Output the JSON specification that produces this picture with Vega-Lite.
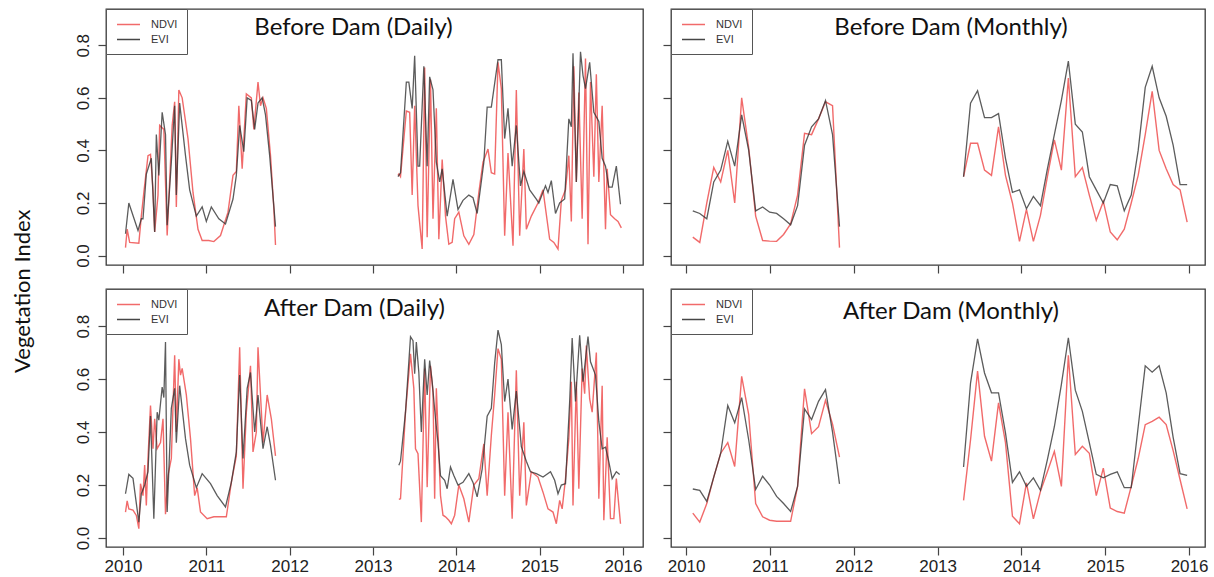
{
"$schema": "https://vega.github.io/schema/vega-lite/v6.json",
"padding": {"left": 12, "top": 7, "right": 5, "bottom": 0},
"background": "white",
"title": {"text": "Vegetation Index", "orient": "left", "anchor": "middle", "fontSize": 22, "font": "Lato", "fontWeight": "normal", "color": "#111", "offset": 38},
"datasets": {
"BD_N1": [{"x":2010.03,"v":0.03},{"x":2010.05,"v":0.10},{"x":2010.08,"v":0.05},{"x":2010.19,"v":0.047},{"x":2010.22,"v":0.15},{"x":2010.25,"v":0.24},{"x":2010.30,"v":0.38},{"x":2010.33,"v":0.385},{"x":2010.36,"v":0.25},{"x":2010.38,"v":0.09},{"x":2010.42,"v":0.23},{"x":2010.44,"v":0.495},{"x":2010.49,"v":0.48},{"x":2010.53,"v":0.076},{"x":2010.59,"v":0.495},{"x":2010.62,"v":0.585},{"x":2010.64,"v":0.185},{"x":2010.67,"v":0.63},{"x":2010.71,"v":0.60},{"x":2010.78,"v":0.445},{"x":2010.84,"v":0.24},{"x":2010.90,"v":0.10},{"x":2010.95,"v":0.057},{"x":2011.03,"v":0.057},{"x":2011.09,"v":0.053},{"x":2011.17,"v":0.076},{"x":2011.26,"v":0.165},{"x":2011.32,"v":0.305},{"x":2011.36,"v":0.32},{"x":2011.39,"v":0.57},{"x":2011.43,"v":0.33},{"x":2011.48,"v":0.615},{"x":2011.54,"v":0.60},{"x":2011.57,"v":0.48},{"x":2011.62,"v":0.66},{"x":2011.65,"v":0.57},{"x":2011.68,"v":0.60},{"x":2011.72,"v":0.56},{"x":2011.77,"v":0.38},{"x":2011.81,"v":0.18},{"x":2011.83,"v":0.04}],
"BD_E1": [{"x":2010.03,"v":0.083},{"x":2010.07,"v":0.20},{"x":2010.18,"v":0.095},{"x":2010.22,"v":0.14},{"x":2010.24,"v":0.14},{"x":2010.28,"v":0.31},{"x":2010.34,"v":0.37},{"x":2010.38,"v":0.09},{"x":2010.40,"v":0.46},{"x":2010.43,"v":0.305},{"x":2010.47,"v":0.545},{"x":2010.51,"v":0.46},{"x":2010.53,"v":0.115},{"x":2010.58,"v":0.355},{"x":2010.62,"v":0.57},{"x":2010.64,"v":0.23},{"x":2010.68,"v":0.58},{"x":2010.75,"v":0.38},{"x":2010.80,"v":0.25},{"x":2010.88,"v":0.15},{"x":2010.95,"v":0.185},{"x":2011.00,"v":0.13},{"x":2011.06,"v":0.185},{"x":2011.15,"v":0.14},{"x":2011.23,"v":0.12},{"x":2011.32,"v":0.215},{"x":2011.36,"v":0.305},{"x":2011.40,"v":0.495},{"x":2011.45,"v":0.395},{"x":2011.49,"v":0.60},{"x":2011.54,"v":0.59},{"x":2011.58,"v":0.48},{"x":2011.62,"v":0.58},{"x":2011.67,"v":0.60},{"x":2011.71,"v":0.535},{"x":2011.76,"v":0.38},{"x":2011.83,"v":0.11}],
"BD_N2": [{"x":2013.30,"v":0.305},{"x":2013.31,"v":0.31},{"x":2013.33,"v":0.30},{"x":2013.40,"v":0.55},{"x":2013.44,"v":0.545},{"x":2013.47,"v":0.23},{"x":2013.50,"v":0.57},{"x":2013.54,"v":0.19},{"x":2013.59,"v":0.025},{"x":2013.62,"v":0.715},{"x":2013.65,"v":0.07},{"x":2013.69,"v":0.67},{"x":2013.72,"v":0.14},{"x":2013.76,"v":0.56},{"x":2013.79,"v":0.062},{"x":2013.83,"v":0.365},{"x":2013.87,"v":0.15},{"x":2013.91,"v":0.043},{"x":2013.95,"v":0.05},{"x":2013.98,"v":0.14},{"x":2014.03,"v":0.165},{"x":2014.09,"v":0.075},{"x":2014.15,"v":0.043},{"x":2014.21,"v":0.08},{"x":2014.27,"v":0.24},{"x":2014.32,"v":0.355},{"x":2014.38,"v":0.405},{"x":2014.42,"v":0.315},{"x":2014.46,"v":0.31},{"x":2014.50,"v":0.735},{"x":2014.54,"v":0.635},{"x":2014.58,"v":0.075},{"x":2014.62,"v":0.39},{"x":2014.68,"v":0.037},{"x":2014.72,"v":0.63},{"x":2014.76,"v":0.075},{"x":2014.81,"v":0.405},{"x":2014.84,"v":0.10},{"x":2014.90,"v":0.15},{"x":2014.98,"v":0.20},{"x":2015.04,"v":0.25},{"x":2015.12,"v":0.062},{"x":2015.17,"v":0.05},{"x":2015.22,"v":0.025},{"x":2015.26,"v":0.21},{"x":2015.31,"v":0.25},{"x":2015.35,"v":0.38},{"x":2015.38,"v":0.13},{"x":2015.41,"v":0.72},{"x":2015.44,"v":0.28},{"x":2015.47,"v":0.62},{"x":2015.51,"v":0.14},{"x":2015.55,"v":0.75},{"x":2015.58,"v":0.043},{"x":2015.61,"v":0.66},{"x":2015.65,"v":0.30},{"x":2015.68,"v":0.69},{"x":2015.71,"v":0.28},{"x":2015.75,"v":0.57},{"x":2015.79,"v":0.10},{"x":2015.81,"v":0.33},{"x":2015.85,"v":0.155},{"x":2015.90,"v":0.14},{"x":2015.94,"v":0.13},{"x":2015.98,"v":0.105}],
"BD_E2": [{"x":2013.30,"v":0.30},{"x":2013.33,"v":0.315},{"x":2013.40,"v":0.66},{"x":2013.43,"v":0.66},{"x":2013.47,"v":0.56},{"x":2013.50,"v":0.76},{"x":2013.54,"v":0.34},{"x":2013.56,"v":0.34},{"x":2013.61,"v":0.72},{"x":2013.65,"v":0.34},{"x":2013.68,"v":0.68},{"x":2013.72,"v":0.63},{"x":2013.76,"v":0.355},{"x":2013.80,"v":0.28},{"x":2013.83,"v":0.33},{"x":2013.89,"v":0.15},{"x":2013.96,"v":0.29},{"x":2014.02,"v":0.175},{"x":2014.08,"v":0.21},{"x":2014.15,"v":0.23},{"x":2014.20,"v":0.22},{"x":2014.25,"v":0.16},{"x":2014.33,"v":0.355},{"x":2014.37,"v":0.565},{"x":2014.42,"v":0.565},{"x":2014.50,"v":0.745},{"x":2014.54,"v":0.745},{"x":2014.58,"v":0.445},{"x":2014.62,"v":0.56},{"x":2014.67,"v":0.34},{"x":2014.72,"v":0.495},{"x":2014.77,"v":0.265},{"x":2014.81,"v":0.32},{"x":2014.88,"v":0.25},{"x":2014.96,"v":0.215},{"x":2014.99,"v":0.20},{"x":2015.07,"v":0.265},{"x":2015.10,"v":0.24},{"x":2015.14,"v":0.285},{"x":2015.19,"v":0.16},{"x":2015.24,"v":0.20},{"x":2015.30,"v":0.215},{"x":2015.35,"v":0.52},{"x":2015.38,"v":0.49},{"x":2015.40,"v":0.77},{"x":2015.44,"v":0.28},{"x":2015.49,"v":0.775},{"x":2015.52,"v":0.685},{"x":2015.55,"v":0.635},{"x":2015.60,"v":0.735},{"x":2015.65,"v":0.545},{"x":2015.71,"v":0.51},{"x":2015.75,"v":0.37},{"x":2015.79,"v":0.34},{"x":2015.83,"v":0.26},{"x":2015.87,"v":0.26},{"x":2015.92,"v":0.34},{"x":2015.97,"v":0.195}],
"AD_N1": [{"x":2010.03,"v":0.098},{"x":2010.05,"v":0.14},{"x":2010.07,"v":0.11},{"x":2010.12,"v":0.105},{"x":2010.16,"v":0.085},{"x":2010.19,"v":0.035},{"x":2010.21,"v":0.205},{"x":2010.24,"v":0.16},{"x":2010.26,"v":0.275},{"x":2010.28,"v":0.123},{"x":2010.30,"v":0.30},{"x":2010.33,"v":0.50},{"x":2010.36,"v":0.337},{"x":2010.38,"v":0.45},{"x":2010.41,"v":0.337},{"x":2010.45,"v":0.36},{"x":2010.48,"v":0.45},{"x":2010.51,"v":0.09},{"x":2010.54,"v":0.236},{"x":2010.58,"v":0.30},{"x":2010.62,"v":0.69},{"x":2010.64,"v":0.40},{"x":2010.67,"v":0.675},{"x":2010.69,"v":0.615},{"x":2010.71,"v":0.64},{"x":2010.76,"v":0.54},{"x":2010.81,"v":0.375},{"x":2010.86,"v":0.16},{"x":2010.89,"v":0.19},{"x":2010.93,"v":0.098},{"x":2011.01,"v":0.073},{"x":2011.09,"v":0.08},{"x":2011.17,"v":0.08},{"x":2011.24,"v":0.08},{"x":2011.30,"v":0.21},{"x":2011.36,"v":0.31},{"x":2011.40,"v":0.72},{"x":2011.44,"v":0.186},{"x":2011.48,"v":0.475},{"x":2011.53,"v":0.65},{"x":2011.56,"v":0.325},{"x":2011.60,"v":0.40},{"x":2011.62,"v":0.72},{"x":2011.68,"v":0.36},{"x":2011.73,"v":0.54},{"x":2011.78,"v":0.45},{"x":2011.83,"v":0.31}],
"AD_E1": [{"x":2010.03,"v":0.167},{"x":2010.07,"v":0.24},{"x":2010.12,"v":0.225},{"x":2010.19,"v":0.06},{"x":2010.22,"v":0.167},{"x":2010.26,"v":0.20},{"x":2010.30,"v":0.25},{"x":2010.33,"v":0.46},{"x":2010.37,"v":0.073},{"x":2010.41,"v":0.475},{"x":2010.43,"v":0.445},{"x":2010.47,"v":0.57},{"x":2010.49,"v":0.53},{"x":2010.51,"v":0.74},{"x":2010.53,"v":0.098},{"x":2010.58,"v":0.49},{"x":2010.62,"v":0.565},{"x":2010.64,"v":0.36},{"x":2010.68,"v":0.575},{"x":2010.75,"v":0.375},{"x":2010.80,"v":0.275},{"x":2010.88,"v":0.19},{"x":2010.95,"v":0.243},{"x":2011.05,"v":0.205},{"x":2011.13,"v":0.16},{"x":2011.23,"v":0.117},{"x":2011.30,"v":0.21},{"x":2011.36,"v":0.325},{"x":2011.40,"v":0.615},{"x":2011.44,"v":0.30},{"x":2011.49,"v":0.565},{"x":2011.53,"v":0.625},{"x":2011.58,"v":0.40},{"x":2011.62,"v":0.54},{"x":2011.68,"v":0.337},{"x":2011.73,"v":0.42},{"x":2011.77,"v":0.35},{"x":2011.83,"v":0.218}],
"AD_N2": [{"x":2013.31,"v":0.146},{"x":2013.33,"v":0.148},{"x":2013.39,"v":0.475},{"x":2013.45,"v":0.695},{"x":2013.49,"v":0.565},{"x":2013.51,"v":0.337},{"x":2013.54,"v":0.318},{"x":2013.58,"v":0.06},{"x":2013.62,"v":0.64},{"x":2013.65,"v":0.192},{"x":2013.69,"v":0.65},{"x":2013.72,"v":0.55},{"x":2013.74,"v":0.148},{"x":2013.76,"v":0.565},{"x":2013.81,"v":0.16},{"x":2013.84,"v":0.086},{"x":2013.87,"v":0.08},{"x":2013.91,"v":0.067},{"x":2013.94,"v":0.054},{"x":2013.98,"v":0.086},{"x":2014.03,"v":0.20},{"x":2014.09,"v":0.148},{"x":2014.15,"v":0.06},{"x":2014.21,"v":0.20},{"x":2014.27,"v":0.224},{"x":2014.33,"v":0.355},{"x":2014.37,"v":0.16},{"x":2014.42,"v":0.387},{"x":2014.46,"v":0.54},{"x":2014.50,"v":0.715},{"x":2014.54,"v":0.675},{"x":2014.58,"v":0.16},{"x":2014.62,"v":0.475},{"x":2014.67,"v":0.073},{"x":2014.72,"v":0.633},{"x":2014.76,"v":0.16},{"x":2014.81,"v":0.437},{"x":2014.84,"v":0.123},{"x":2014.90,"v":0.25},{"x":2014.98,"v":0.23},{"x":2015.04,"v":0.173},{"x":2015.10,"v":0.11},{"x":2015.16,"v":0.098},{"x":2015.20,"v":0.054},{"x":2015.24,"v":0.142},{"x":2015.27,"v":0.11},{"x":2015.31,"v":0.224},{"x":2015.35,"v":0.375},{"x":2015.38,"v":0.59},{"x":2015.40,"v":0.123},{"x":2015.44,"v":0.59},{"x":2015.47,"v":0.186},{"x":2015.51,"v":0.64},{"x":2015.54,"v":0.545},{"x":2015.56,"v":0.727},{"x":2015.60,"v":0.525},{"x":2015.63,"v":0.475},{"x":2015.68,"v":0.70},{"x":2015.71,"v":0.148},{"x":2015.75,"v":0.575},{"x":2015.77,"v":0.067},{"x":2015.81,"v":0.38},{"x":2015.85,"v":0.073},{"x":2015.89,"v":0.073},{"x":2015.92,"v":0.224},{"x":2015.97,"v":0.054}],
"AD_E2": [{"x":2013.31,"v":0.275},{"x":2013.33,"v":0.29},{"x":2013.39,"v":0.475},{"x":2013.45,"v":0.76},{"x":2013.48,"v":0.745},{"x":2013.50,"v":0.62},{"x":2013.52,"v":0.74},{"x":2013.55,"v":0.625},{"x":2013.58,"v":0.40},{"x":2013.62,"v":0.675},{"x":2013.65,"v":0.54},{"x":2013.68,"v":0.67},{"x":2013.71,"v":0.59},{"x":2013.75,"v":0.45},{"x":2013.78,"v":0.36},{"x":2013.81,"v":0.235},{"x":2013.86,"v":0.218},{"x":2013.89,"v":0.186},{"x":2013.93,"v":0.268},{"x":2013.97,"v":0.236},{"x":2014.02,"v":0.20},{"x":2014.08,"v":0.21},{"x":2014.15,"v":0.243},{"x":2014.20,"v":0.21},{"x":2014.25,"v":0.155},{"x":2014.31,"v":0.26},{"x":2014.37,"v":0.46},{"x":2014.42,"v":0.49},{"x":2014.46,"v":0.66},{"x":2014.50,"v":0.785},{"x":2014.54,"v":0.73},{"x":2014.58,"v":0.515},{"x":2014.62,"v":0.60},{"x":2014.67,"v":0.41},{"x":2014.72,"v":0.555},{"x":2014.78,"v":0.345},{"x":2014.84,"v":0.29},{"x":2014.89,"v":0.25},{"x":2014.96,"v":0.243},{"x":2015.04,"v":0.23},{"x":2015.13,"v":0.25},{"x":2015.18,"v":0.218},{"x":2015.22,"v":0.167},{"x":2015.26,"v":0.20},{"x":2015.31,"v":0.205},{"x":2015.36,"v":0.515},{"x":2015.39,"v":0.755},{"x":2015.43,"v":0.515},{"x":2015.48,"v":0.765},{"x":2015.52,"v":0.59},{"x":2015.58,"v":0.76},{"x":2015.61,"v":0.665},{"x":2015.67,"v":0.615},{"x":2015.71,"v":0.44},{"x":2015.75,"v":0.337},{"x":2015.79,"v":0.343},{"x":2015.83,"v":0.287},{"x":2015.87,"v":0.224},{"x":2015.92,"v":0.25},{"x":2015.96,"v":0.24}],
"BM_N1": [{"x":2010.08,"v":0.07},{"x":2010.163,"v":0.05},{"x":2010.247,"v":0.2},{"x":2010.33,"v":0.335},{"x":2010.413,"v":0.28},{"x":2010.497,"v":0.40},{"x":2010.58,"v":0.20},{"x":2010.663,"v":0.60},{"x":2010.747,"v":0.41},{"x":2010.83,"v":0.15},{"x":2010.913,"v":0.057},{"x":2010.997,"v":0.055},{"x":2011.08,"v":0.054},{"x":2011.163,"v":0.08},{"x":2011.247,"v":0.12},{"x":2011.33,"v":0.23},{"x":2011.413,"v":0.465},{"x":2011.497,"v":0.46},{"x":2011.58,"v":0.52},{"x":2011.663,"v":0.585},{"x":2011.747,"v":0.57},{"x":2011.83,"v":0.03}],
"BM_E1": [{"x":2010.08,"v":0.17},{"x":2010.163,"v":0.16},{"x":2010.247,"v":0.14},{"x":2010.33,"v":0.28},{"x":2010.413,"v":0.325},{"x":2010.497,"v":0.435},{"x":2010.58,"v":0.34},{"x":2010.663,"v":0.535},{"x":2010.747,"v":0.40},{"x":2010.83,"v":0.17},{"x":2010.913,"v":0.185},{"x":2010.997,"v":0.165},{"x":2011.08,"v":0.16},{"x":2011.163,"v":0.14},{"x":2011.247,"v":0.117},{"x":2011.33,"v":0.19},{"x":2011.413,"v":0.42},{"x":2011.497,"v":0.49},{"x":2011.58,"v":0.52},{"x":2011.663,"v":0.59},{"x":2011.747,"v":0.46},{"x":2011.83,"v":0.11}],
"BM_N2": [{"x":2013.31,"v":0.30},{"x":2013.393,"v":0.427},{"x":2013.477,"v":0.427},{"x":2013.56,"v":0.325},{"x":2013.643,"v":0.305},{"x":2013.727,"v":0.49},{"x":2013.81,"v":0.305},{"x":2013.893,"v":0.20},{"x":2013.977,"v":0.054},{"x":2014.06,"v":0.176},{"x":2014.143,"v":0.054},{"x":2014.227,"v":0.153},{"x":2014.31,"v":0.30},{"x":2014.393,"v":0.44},{"x":2014.477,"v":0.325},{"x":2014.56,"v":0.675},{"x":2014.643,"v":0.30},{"x":2014.727,"v":0.335},{"x":2014.81,"v":0.23},{"x":2014.893,"v":0.134},{"x":2014.977,"v":0.206},{"x":2015.06,"v":0.09},{"x":2015.143,"v":0.06},{"x":2015.227,"v":0.10},{"x":2015.31,"v":0.20},{"x":2015.393,"v":0.305},{"x":2015.477,"v":0.46},{"x":2015.56,"v":0.625},{"x":2015.643,"v":0.40},{"x":2015.727,"v":0.33},{"x":2015.81,"v":0.27},{"x":2015.893,"v":0.25},{"x":2015.977,"v":0.127}],
"BM_E2": [{"x":2013.31,"v":0.30},{"x":2013.393,"v":0.58},{"x":2013.477,"v":0.627},{"x":2013.56,"v":0.525},{"x":2013.643,"v":0.525},{"x":2013.727,"v":0.54},{"x":2013.81,"v":0.37},{"x":2013.893,"v":0.24},{"x":2013.977,"v":0.25},{"x":2014.06,"v":0.178},{"x":2014.143,"v":0.225},{"x":2014.227,"v":0.19},{"x":2014.31,"v":0.33},{"x":2014.393,"v":0.46},{"x":2014.477,"v":0.59},{"x":2014.56,"v":0.74},{"x":2014.643,"v":0.50},{"x":2014.727,"v":0.47},{"x":2014.81,"v":0.30},{"x":2014.893,"v":0.25},{"x":2014.977,"v":0.20},{"x":2015.06,"v":0.27},{"x":2015.143,"v":0.265},{"x":2015.227,"v":0.17},{"x":2015.31,"v":0.23},{"x":2015.393,"v":0.40},{"x":2015.477,"v":0.64},{"x":2015.56,"v":0.72},{"x":2015.643,"v":0.60},{"x":2015.727,"v":0.53},{"x":2015.81,"v":0.42},{"x":2015.893,"v":0.27},{"x":2015.977,"v":0.27}],
"AM_N1": [{"x":2010.08,"v":0.094},{"x":2010.163,"v":0.06},{"x":2010.247,"v":0.13},{"x":2010.33,"v":0.23},{"x":2010.413,"v":0.32},{"x":2010.497,"v":0.36},{"x":2010.58,"v":0.27},{"x":2010.663,"v":0.61},{"x":2010.747,"v":0.466},{"x":2010.83,"v":0.13},{"x":2010.913,"v":0.08},{"x":2010.997,"v":0.067},{"x":2011.08,"v":0.063},{"x":2011.163,"v":0.063},{"x":2011.247,"v":0.063},{"x":2011.33,"v":0.195},{"x":2011.413,"v":0.563},{"x":2011.497,"v":0.394},{"x":2011.58,"v":0.42},{"x":2011.663,"v":0.52},{"x":2011.747,"v":0.43},{"x":2011.83,"v":0.305}],
"AM_E1": [{"x":2010.08,"v":0.185},{"x":2010.163,"v":0.18},{"x":2010.247,"v":0.138},{"x":2010.33,"v":0.23},{"x":2010.413,"v":0.32},{"x":2010.497,"v":0.50},{"x":2010.58,"v":0.435},{"x":2010.663,"v":0.53},{"x":2010.747,"v":0.37},{"x":2010.83,"v":0.183},{"x":2010.913,"v":0.233},{"x":2010.997,"v":0.20},{"x":2011.08,"v":0.157},{"x":2011.163,"v":0.13},{"x":2011.247,"v":0.10},{"x":2011.33,"v":0.195},{"x":2011.413,"v":0.487},{"x":2011.497,"v":0.447},{"x":2011.58,"v":0.516},{"x":2011.663,"v":0.56},{"x":2011.747,"v":0.40},{"x":2011.83,"v":0.204}],
"AM_N2": [{"x":2013.31,"v":0.142},{"x":2013.393,"v":0.37},{"x":2013.477,"v":0.63},{"x":2013.56,"v":0.384},{"x":2013.643,"v":0.29},{"x":2013.727,"v":0.51},{"x":2013.81,"v":0.36},{"x":2013.893,"v":0.082},{"x":2013.977,"v":0.054},{"x":2014.06,"v":0.208},{"x":2014.143,"v":0.072},{"x":2014.227,"v":0.176},{"x":2014.31,"v":0.25},{"x":2014.393,"v":0.327},{"x":2014.477,"v":0.195},{"x":2014.56,"v":0.69},{"x":2014.643,"v":0.315},{"x":2014.727,"v":0.346},{"x":2014.81,"v":0.32},{"x":2014.893,"v":0.16},{"x":2014.977,"v":0.264},{"x":2015.06,"v":0.113},{"x":2015.143,"v":0.10},{"x":2015.227,"v":0.094},{"x":2015.31,"v":0.195},{"x":2015.393,"v":0.30},{"x":2015.477,"v":0.428},{"x":2015.56,"v":0.44},{"x":2015.643,"v":0.456},{"x":2015.727,"v":0.428},{"x":2015.81,"v":0.33},{"x":2015.893,"v":0.22},{"x":2015.977,"v":0.11}],
"AM_E2": [{"x":2013.31,"v":0.268},{"x":2013.393,"v":0.585},{"x":2013.477,"v":0.752},{"x":2013.56,"v":0.623},{"x":2013.643,"v":0.548},{"x":2013.727,"v":0.548},{"x":2013.81,"v":0.397},{"x":2013.893,"v":0.21},{"x":2013.977,"v":0.25},{"x":2014.06,"v":0.195},{"x":2014.143,"v":0.227},{"x":2014.227,"v":0.18},{"x":2014.31,"v":0.296},{"x":2014.393,"v":0.42},{"x":2014.477,"v":0.58},{"x":2014.56,"v":0.756},{"x":2014.643,"v":0.558},{"x":2014.727,"v":0.478},{"x":2014.81,"v":0.36},{"x":2014.893,"v":0.24},{"x":2014.977,"v":0.227},{"x":2015.06,"v":0.24},{"x":2015.143,"v":0.25},{"x":2015.227,"v":0.19},{"x":2015.31,"v":0.19},{"x":2015.393,"v":0.42},{"x":2015.477,"v":0.65},{"x":2015.56,"v":0.626},{"x":2015.643,"v":0.65},{"x":2015.727,"v":0.548},{"x":2015.81,"v":0.38},{"x":2015.893,"v":0.243},{"x":2015.977,"v":0.236}]
},
"columns": 2,
"spacing": {"row": 24, "column": 28},
"bounds": "flush",
"align": "each",
"resolve": {"scale": {"color": "independent"}, "legend": {"color": "independent"}},
"concat": [
{
"width": 537, "height": 256,
"title": {"text": "Before Dam (Daily)", "orient": "top", "anchor": "middle", "frame": "group", "offset": -50, "dx": -21, "baseline": "alphabetic"},
"encoding": {
"x": {"field": "x", "type": "quantitative", "scale": {"domain": [2009.796, 2016.24], "nice": false, "zero": false}, "axis": {"values": [2010,2011,2012,2013,2014,2015,2016], "format": "d", "labels": false, "title": null}},
"y": {"field": "v", "type": "quantitative", "scale": {"domain": [-0.036, 0.938], "nice": false, "zero": false}, "axis": {"values": [0,0.2,0.4,0.6,0.8], "format": ".1f", "title": null}}
},
"layer": [
{"data": {"name": "BD_N1"}, "mark": {"type": "line", "strokeWidth": 1.4, "opacity": 0.9}, "encoding": {"color": {"datum": "NDVI", "scale": {"domain": ["NDVI","EVI"], "range": ["#f05a5a","#333333"]}, "legend": {"title": null}}}},
{"data": {"name": "BD_N2"}, "mark": {"type": "line", "strokeWidth": 1.4, "opacity": 0.9}, "encoding": {"color": {"datum": "NDVI", "scale": {"domain": ["NDVI","EVI"], "range": ["#f05a5a","#333333"]}, "legend": {"title": null}}}},
{"data": {"name": "BD_E1"}, "mark": {"type": "line", "strokeWidth": 1.3, "opacity": 0.8}, "encoding": {"color": {"datum": "EVI", "scale": {"domain": ["NDVI","EVI"], "range": ["#f05a5a","#333333"]}, "legend": {"title": null}}}},
{"data": {"name": "BD_E2"}, "mark": {"type": "line", "strokeWidth": 1.3, "opacity": 0.8}, "encoding": {"color": {"datum": "EVI", "scale": {"domain": ["NDVI","EVI"], "range": ["#f05a5a","#333333"]}, "legend": {"title": null}}}}
]
},
{
"width": 534, "height": 256,
"title": {"text": "Before Dam (Monthly)", "orient": "top", "anchor": "middle", "frame": "group", "offset": -50, "dx": 13, "baseline": "alphabetic"},
"encoding": {
"x": {"field": "x", "type": "quantitative", "scale": {"domain": [2009.82, 2016.19], "nice": false, "zero": false}, "axis": {"values": [2010,2011,2012,2013,2014,2015,2016], "format": "d", "labels": false, "title": null}},
"y": {"field": "v", "type": "quantitative", "scale": {"domain": [-0.036, 0.938], "nice": false, "zero": false}, "axis": {"values": [0,0.2,0.4,0.6,0.8], "format": ".1f", "labels": false, "title": null}}
},
"layer": [
{"data": {"name": "BM_N1"}, "mark": {"type": "line", "strokeWidth": 1.4, "opacity": 0.9}, "encoding": {"color": {"datum": "NDVI", "scale": {"domain": ["NDVI","EVI"], "range": ["#f05a5a","#333333"]}, "legend": {"title": null}}}},
{"data": {"name": "BM_N2"}, "mark": {"type": "line", "strokeWidth": 1.4, "opacity": 0.9}, "encoding": {"color": {"datum": "NDVI", "scale": {"domain": ["NDVI","EVI"], "range": ["#f05a5a","#333333"]}, "legend": {"title": null}}}},
{"data": {"name": "BM_E1"}, "mark": {"type": "line", "strokeWidth": 1.3, "opacity": 0.8}, "encoding": {"color": {"datum": "EVI", "scale": {"domain": ["NDVI","EVI"], "range": ["#f05a5a","#333333"]}, "legend": {"title": null}}}},
{"data": {"name": "BM_E2"}, "mark": {"type": "line", "strokeWidth": 1.3, "opacity": 0.8}, "encoding": {"color": {"datum": "EVI", "scale": {"domain": ["NDVI","EVI"], "range": ["#f05a5a","#333333"]}, "legend": {"title": null}}}}
]
},
{
"width": 537, "height": 258,
"title": {"text": "After Dam (Daily)", "orient": "top", "anchor": "middle", "frame": "group", "offset": -51, "dx": -20, "baseline": "alphabetic"},
"encoding": {
"x": {"field": "x", "type": "quantitative", "scale": {"domain": [2009.796, 2016.24], "nice": false, "zero": false}, "axis": {"values": [2010,2011,2012,2013,2014,2015,2016], "format": "d", "title": null}},
"y": {"field": "v", "type": "quantitative", "scale": {"domain": [-0.034, 0.94], "nice": false, "zero": false}, "axis": {"values": [0,0.2,0.4,0.6,0.8], "format": ".1f", "title": null}}
},
"layer": [
{"data": {"name": "AD_N1"}, "mark": {"type": "line", "strokeWidth": 1.4, "opacity": 0.9}, "encoding": {"color": {"datum": "NDVI", "scale": {"domain": ["NDVI","EVI"], "range": ["#f05a5a","#333333"]}, "legend": {"title": null}}}},
{"data": {"name": "AD_N2"}, "mark": {"type": "line", "strokeWidth": 1.4, "opacity": 0.9}, "encoding": {"color": {"datum": "NDVI", "scale": {"domain": ["NDVI","EVI"], "range": ["#f05a5a","#333333"]}, "legend": {"title": null}}}},
{"data": {"name": "AD_E1"}, "mark": {"type": "line", "strokeWidth": 1.3, "opacity": 0.8}, "encoding": {"color": {"datum": "EVI", "scale": {"domain": ["NDVI","EVI"], "range": ["#f05a5a","#333333"]}, "legend": {"title": null}}}},
{"data": {"name": "AD_E2"}, "mark": {"type": "line", "strokeWidth": 1.3, "opacity": 0.8}, "encoding": {"color": {"datum": "EVI", "scale": {"domain": ["NDVI","EVI"], "range": ["#f05a5a","#333333"]}, "legend": {"title": null}}}}
]
},
{
"width": 534, "height": 258,
"title": {"text": "After Dam (Monthly)", "orient": "top", "anchor": "middle", "frame": "group", "offset": -54, "dx": 13, "baseline": "alphabetic"},
"encoding": {
"x": {"field": "x", "type": "quantitative", "scale": {"domain": [2009.82, 2016.19], "nice": false, "zero": false}, "axis": {"values": [2010,2011,2012,2013,2014,2015,2016], "format": "d", "title": null}},
"y": {"field": "v", "type": "quantitative", "scale": {"domain": [-0.034, 0.94], "nice": false, "zero": false}, "axis": {"values": [0,0.2,0.4,0.6,0.8], "format": ".1f", "labels": false, "title": null}}
},
"layer": [
{"data": {"name": "AM_N1"}, "mark": {"type": "line", "strokeWidth": 1.4, "opacity": 0.9}, "encoding": {"color": {"datum": "NDVI", "scale": {"domain": ["NDVI","EVI"], "range": ["#f05a5a","#333333"]}, "legend": {"title": null}}}},
{"data": {"name": "AM_N2"}, "mark": {"type": "line", "strokeWidth": 1.4, "opacity": 0.9}, "encoding": {"color": {"datum": "NDVI", "scale": {"domain": ["NDVI","EVI"], "range": ["#f05a5a","#333333"]}, "legend": {"title": null}}}},
{"data": {"name": "AM_E1"}, "mark": {"type": "line", "strokeWidth": 1.3, "opacity": 0.8}, "encoding": {"color": {"datum": "EVI", "scale": {"domain": ["NDVI","EVI"], "range": ["#f05a5a","#333333"]}, "legend": {"title": null}}}},
{"data": {"name": "AM_E2"}, "mark": {"type": "line", "strokeWidth": 1.3, "opacity": 0.8}, "encoding": {"color": {"datum": "EVI", "scale": {"domain": ["NDVI","EVI"], "range": ["#f05a5a","#333333"]}, "legend": {"title": null}}}}
]
}
],
"config": {
"view": {"stroke": "#3a3a3a", "strokeWidth": 1.3},
"axis": {"domain": false, "grid": false, "tickSize": 8, "tickColor": "#444", "tickWidth": 1.2, "labelFont": "Liberation Sans", "labelFontSize": 17, "labelColor": "#222"},
"axisX": {"labelPadding": 3},
"axisY": {"labelAngle": -90, "labelAlign": "center", "labelBaseline": "bottom", "labelPadding": 6},
"legend": {"orient": "top-left", "offset": 0, "padding": 9, "strokeColor": "#555", "fillColor": "white", "symbolType": "M-2,0H2", "symbolSize": 132, "symbolStrokeWidth": 1.5, "symbolOffset": 7, "labelFont": "Liberation Sans", "labelFontSize": 11, "labelOffset": 16, "rowPadding": 3, "labelColor": "#333", "cornerRadius": 0},
"title": {"font": "Lato", "fontSize": 24, "fontWeight": "normal", "color": "#111"}
}
}
